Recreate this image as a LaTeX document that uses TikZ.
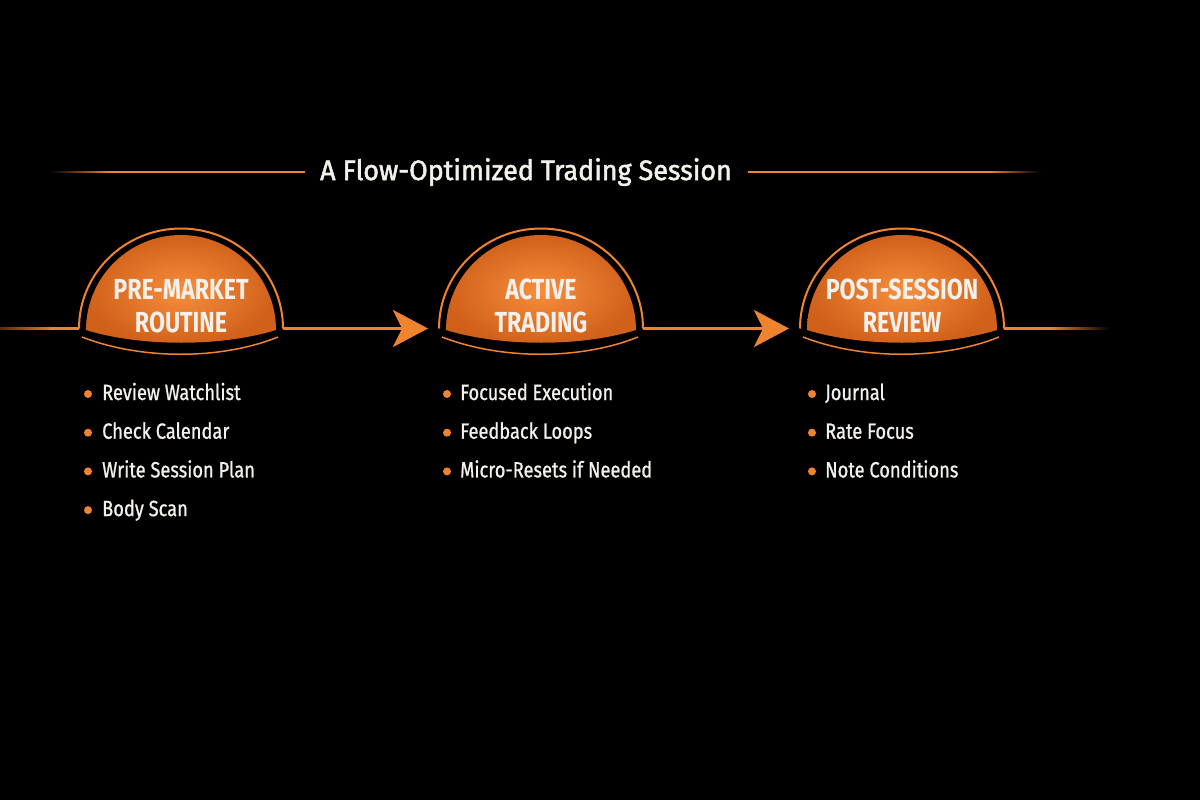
\documentclass[tikz,border=0pt]{standalone}
\usepackage{fontspec}
\setmainfont{Fira Sans}
\newfontfamily\headfont[FakeStretch=0.8]{Fira Sans}
\newfontfamily\titlefont[FakeStretch=0.96,FakeBold=1.8]{Fira Sans}
\newfontfamily\itemfont[FakeStretch=0.83,FakeBold=0.9]{Fira Sans}
\usetikzlibrary{arrows.meta,calc}
\definecolor{org}{HTML}{F0832E}
\definecolor{orglight}{HTML}{F88E3C}
\definecolor{orgdark}{HTML}{D0601A}
\definecolor{txt}{HTML}{F4F1EC}
\tikzset{
  titletext/.style={text=txt, font=\titlefont\fontsize{28}{32}\selectfont, inner sep=0pt, anchor=base},
  domelabel/.style={text=txt, font=\headfont\bfseries\fontsize{29}{33}\selectfont, align=center, inner sep=0pt},
  itemtext/.style={text=txt, font=\itemfont\fontsize{22}{26}\selectfont, inner sep=0pt, anchor=base west},
  bulletdot/.style={circle, fill=org, inner sep=0pt, minimum size=8pt},
  domeline/.style={draw=org, line width=2pt},
  flowarrow/.style={draw=org, line width=3.5pt, -{Stealth[length=35pt,width=37pt,inset=9pt]}},
  titlerule/.style={draw=org, line width=1.5pt},
  flowline/.style={draw=org, line width=3.2pt}
}
\begin{document}
\begin{tikzpicture}[x=1pt,y=-1pt]
\fill[black] (0,0) rectangle (1200,800);
\useasboundingbox (0,0) rectangle (1200,800);

% title
\node[titletext] (title) at (526,180) {A Flow-Optimized Trading Session};
\coordinate (tlA) at (50,172);
\coordinate (tlB) at (110,172);
\coordinate (tlC) at (305,172);
\coordinate (trA) at (748,172);
\coordinate (trB) at (990,172);
\coordinate (trC) at (1040,172);
\draw[titlerule] (tlB) -- (tlC);
\draw[titlerule] (trA) -- (trB);
\foreach \k in {0,...,19}{
  \pgfmathtruncatemacro{\pc}{5*\k+2}
  \pgfmathtruncatemacro{\pd}{100-5*\k-2}
  \draw[titlerule, draw=org!\pc!black, line cap=butt] ($(tlA)!\k/20!(tlB)$) -- ($(tlA)!\k/20+0.06!(tlB)$);
  \draw[titlerule, draw=org!\pd!black, line cap=butt] ($(trB)!\k/20!(trC)$) -- ($(trB)!\k/20+0.06!(trC)$);
}

% domes
\foreach \cx/\n in {181/a,541/b,902/c}{
  \coordinate (\n L) at (\cx-102,328.5);
  \coordinate (\n R) at (\cx+102,328.5);
  \shade[inner color=orglight, outer color=orgdark]
    (\cx-95,330) arc[start angle=180,end angle=360,x radius=95,y radius=95]
    .. controls (\cx+40,347) and (\cx-40,347) .. cycle;
  \draw[domeline] (\n L) arc[start angle=180,end angle=360,x radius=102,y radius=100];
  \draw[draw=org, line width=1.5pt] (\cx-99,337) .. controls (\cx-40,360) and (\cx+40,360) .. (\cx+97,337);
}

\node[domelabel] (la) at (181,306) {PRE-MARKET\\ROUTINE};
\node[domelabel] (lb) at (541,306) {ACTIVE\\TRADING};
\node[domelabel] (lc) at (902,306) {POST-SESSION\\REVIEW};

% flow line
\coordinate (startL) at (0,328.5);
\coordinate (midL) at (50,328.5);
\coordinate (endA) at (1050,328.5);
\coordinate (endB) at (1110,328.5);
\foreach \k in {0,...,19}{
  \pgfmathtruncatemacro{\pc}{35+3*\k}
  \pgfmathtruncatemacro{\pd}{100-5*\k-2}
  \draw[flowline, draw=org!\pc!black, line cap=butt] ($(startL)!\k/20!(midL)$) -- ($(startL)!\k/20+0.06!(midL)$);
  \draw[flowline, draw=org!\pd!black, line cap=butt] ($(endA)!\k/20!(endB)$) -- ($(endA)!\k/20+0.06!(endB)$);
}
\draw[flowline] (midL) -- (aL);
\draw[flowarrow] (aR) -- ([xshift=-11pt]bL);
\draw[flowarrow] (bR) -- ([xshift=-11pt]cL);
\draw[flowline] (cR) -- (endA);

% items
\foreach \bx/\tx/\n/\items in {88/102/a/{Review Watchlist,Check Calendar,Write Session Plan,Body Scan},
                              447/460/b/{Focused Execution,Feedback Loops,Micro-Resets if Needed},
                              812/825/c/{Journal,Rate Focus,Note Conditions}}{
  \foreach \t [count=\i] in \items {
    \node[bulletdot] (\n dot\i) at (\bx,{400+38.7*(\i-1)-6}) {};
    \node[itemtext] (\n item\i) at (\tx,{400+38.7*(\i-1)}) {\t};
  }
}
\end{tikzpicture}
\end{document}
